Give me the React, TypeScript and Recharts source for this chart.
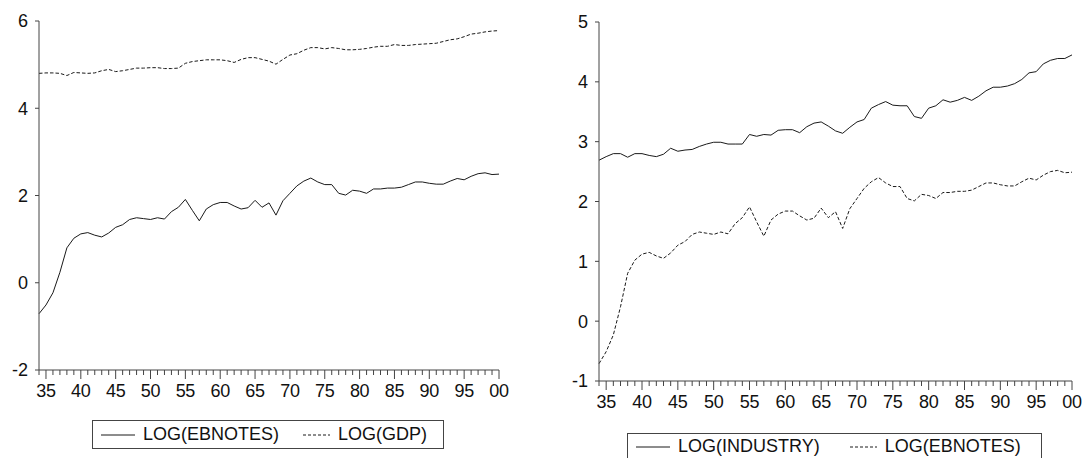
import { CartesianGrid, Line, LineChart, XAxis, YAxis } from 'recharts';

const years: number[] = [];
for (let y = 1934; y <= 2000; y++) years.push(y);

const ebnotes = [
  -0.71, -0.51, -0.23, 0.24, 0.8, 1.02, 1.12, 1.15, 1.09, 1.05,
  1.14, 1.27, 1.33, 1.45, 1.49, 1.47, 1.45, 1.49, 1.46, 1.63,
  1.73, 1.91, 1.66, 1.42, 1.69, 1.79, 1.84, 1.84, 1.76, 1.69,
  1.72, 1.89, 1.73, 1.83, 1.55, 1.88, 2.05, 2.22, 2.33, 2.4,
  2.31, 2.25, 2.25, 2.05, 2.01, 2.12, 2.1, 2.05, 2.15, 2.15,
  2.17, 2.17, 2.19, 2.25, 2.31, 2.31, 2.28, 2.26, 2.26, 2.33,
  2.39, 2.36, 2.44, 2.5, 2.52, 2.48, 2.49,
];

const gdp = [
  4.8, 4.81, 4.81, 4.8, 4.75, 4.82, 4.81, 4.8, 4.81, 4.86,
  4.89, 4.84, 4.86, 4.89, 4.92, 4.92, 4.93, 4.93, 4.91, 4.91,
  4.92, 5.03, 5.07, 5.09, 5.11, 5.11, 5.11, 5.09, 5.05, 5.12,
  5.16, 5.16, 5.12, 5.08, 5.01, 5.12, 5.22, 5.25, 5.33, 5.39,
  5.39, 5.36, 5.39, 5.37, 5.34, 5.34, 5.35, 5.37, 5.4, 5.42,
  5.42, 5.46, 5.44, 5.44, 5.46, 5.47, 5.48, 5.49, 5.53, 5.57,
  5.59, 5.64, 5.7, 5.72, 5.75, 5.77, 5.78,
];

const industry = [
  2.69, 2.75, 2.8, 2.8, 2.74, 2.8, 2.8, 2.77, 2.75, 2.79,
  2.89, 2.84, 2.86, 2.87, 2.92, 2.96, 2.99, 2.99, 2.96, 2.96,
  2.96, 3.12, 3.09, 3.12, 3.11, 3.19, 3.2, 3.2, 3.15, 3.25,
  3.31, 3.33, 3.26, 3.18, 3.14, 3.24, 3.33, 3.37, 3.56, 3.62,
  3.67, 3.61, 3.6, 3.6, 3.42, 3.39, 3.56, 3.6, 3.7, 3.66,
  3.69, 3.74, 3.69, 3.76, 3.85, 3.91, 3.91, 3.93, 3.97, 4.04,
  4.15, 4.17, 4.3, 4.36, 4.39, 4.39, 4.45,
];

const leftTicks = [-2, 0, 2, 4, 6];
const rightTicks = [-1, 0, 1, 2, 3, 4, 5];

const leftData = years.map((y, i) => ({ year: y, ebnotes: ebnotes[i], gdp: gdp[i] }));
const rightData = years.map((y, i) => ({ year: y, industry: industry[i], ebnotes: ebnotes[i] }));

const FONT = 'Arial, "Liberation Sans", sans-serif';
const FRAME = '#444';
const INK = '#1a1a1a';
const DASH = '3.5 2';

function YearTick(props: any) {
  const { x, y, payload } = props;
  const yr = payload.value as number;
  const major = yr % 5 === 0;
  return (
    <g>
      <line x1={x} x2={x} y1={y} y2={y + (major ? 9 : 5)} stroke={FRAME} strokeWidth={1} />
      {major && (
        <text x={x} y={y + 27} textAnchor="middle" fontSize={18} fontFamily={FONT} fill="#111" letterSpacing={-0.3}>
          {String(yr % 100).padStart(2, '0')}
        </text>
      )}
    </g>
  );
}

function Panel({
  data,
  keys,
  dashed,
  domain,
  ticks,
  width,
  height,
  top,
  right,
}: {
  data: any[];
  keys: string[];
  dashed: boolean[];
  domain: [number, number];
  ticks: number[];
  width: number;
  height: number;
  top: number;
  right: number;
}) {
  return (
    <LineChart width={width} height={height} data={data} margin={{ top, right, left: 0, bottom: 0 }}>
      <CartesianGrid horizontal={false} vertical={false} />
      <XAxis
        xAxisId="b"
        dataKey="year"
        type="number"
        domain={[1934, 2000]}
        ticks={years}
        interval={0}
        tickSize={0}
        tickMargin={0}
        tickLine={false}
        height={40}
        stroke={FRAME}
        tick={<YearTick />}
      />
      <XAxis xAxisId="t" orientation="top" dataKey="year" type="number" domain={[1934, 2000]} height={0} tick={false} tickLine={false} stroke={FRAME} />
      <YAxis
        yAxisId="l"
        domain={domain}
        ticks={ticks}
        interval={0}
        width={39}
        tickSize={4}
        tickMargin={7}
        stroke={FRAME}
        tick={{ fill: '#111', fontSize: 18, fontFamily: FONT }}
      />
      <YAxis yAxisId="r" orientation="right" domain={domain} width={0} tick={false} tickLine={false} stroke={FRAME} />
      {keys.map((k, i) => (
        <Line
          key={k}
          xAxisId="b"
          yAxisId="l"
          dataKey={k}
          type="linear"
          stroke={INK}
          strokeWidth={1}
          strokeDasharray={dashed[i] ? DASH : undefined}
          dot={false}
          isAnimationActive={false}
        />
      ))}
    </LineChart>
  );
}

function LegendBox({ names, dashed, gap, style }: { names: string[]; dashed: boolean[]; gap: number; style: React.CSSProperties }) {
  return (
    <div
      style={{
        position: 'absolute',
        border: `1px solid ${FRAME}`,
        display: 'flex',
        alignItems: 'center',
        boxSizing: 'border-box',
        fontFamily: FONT,
        fontSize: 18,
        color: '#111',
        background: '#fff',
        whiteSpace: 'nowrap',
        ...style,
      }}
    >
      {names.map((n, i) => (
        <div key={n} style={{ display: 'flex', alignItems: 'center', marginLeft: i === 0 ? 8 : gap }}>
          <svg width={i === 0 ? 34 : 27} height={6} style={{ marginRight: 8 }}>
            <line x1={0} x2={34} y1={3} y2={3} stroke={INK} strokeWidth={1} strokeDasharray={dashed[i] ? '3 2' : undefined} />
          </svg>
          <span>{n}</span>
        </div>
      ))}
    </div>
  );
}

export default function App() {
  return (
    <div style={{ position: 'absolute', left: 0, top: 0, width: 1082, height: 458, background: '#fff', overflow: 'hidden' }}>
      <div style={{ position: 'absolute', left: 0, top: 0 }}>
        <Panel
          data={leftData}
          keys={['ebnotes', 'gdp']}
          dashed={[false, true]}
          domain={[-2, 6]}
          ticks={leftTicks}
          width={510}
          height={410}
          top={21}
          right={11}
        />
      </div>
      <div style={{ position: 'absolute', left: 560, top: 0 }}>
        <Panel
          data={rightData}
          keys={['industry', 'ebnotes']}
          dashed={[false, true]}
          domain={[-1, 5]}
          ticks={rightTicks}
          width={522}
          height={421}
          top={22}
          right={10}
        />
      </div>
      <LegendBox names={['LOG(EBNOTES)', 'LOG(GDP)']} dashed={[false, true]} gap={24} style={{ left: 92, top: 420, width: 352, height: 29 }} />
      <LegendBox names={['LOG(INDUSTRY)', 'LOG(EBNOTES)']} dashed={[false, true]} gap={30} style={{ left: 627, top: 433, width: 415, height: 27 }} />
    </div>
  );
}
